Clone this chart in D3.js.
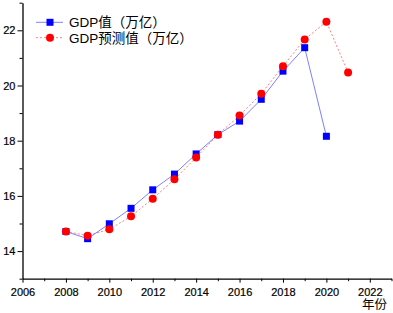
<!DOCTYPE html>
<html><head><meta charset="utf-8">
<script src="https://cdn.jsdelivr.net/npm/d3@7"></script>
<style>body{margin:0;background:#fff}svg{display:block}text{font-family:Arial,"Liberation Sans","Noto Sans CJK SC",sans-serif}</style>
</head><body>
<svg id="c" width="393" height="313"></svg>
<script>
const years = [2008,2009,2010,2011,2012,2013,2014,2015,2016,2017,2018,2019,2020];
const gdp = [14.71,14.45,14.99,15.55,16.22,16.79,17.52,18.22,18.71,19.5,20.52,21.37,18.16];
const predYears = [2008,2009,2010,2011,2012,2013,2014,2015,2016,2017,2018,2019,2020,2021];
const gdpPred = [14.71,14.56,14.79,15.26,15.9,16.6,17.39,18.22,18.91,19.7,20.7,21.67,22.31,20.47];
const xTicks = [2006,2008,2010,2012,2014,2016,2018,2020,2022];
const yTicks = [14,16,18,20,22];
const legendLabels = ["GDP值（万亿）","GDP预测值（万亿）"];
const xTitle = "年份";

const svg = d3.select("#c");
const x = d3.scaleLinear().domain([2006,2023]).range([22.5,391.5]);
const y = d3.scaleLinear().domain([13,23]).range([278.7,2.7]);

const g = svg.append("g");
const xa = g.append("g").attr("transform",`translate(0,${y(13)})`)
  .call(d3.axisBottom(x).tickValues(xTicks).tickFormat(d3.format("d")).tickSize(4).tickSizeOuter(0));
xa.select(".domain").attr("stroke-width",1.3);
xa.selectAll(".tick text").attr("font-size",11).attr("dy","0.95em").attr("fill","#000").attr("stroke","#000").attr("stroke-width",0.2);
g.append("g").attr("transform",`translate(0,${y(13)})`)
  .call(d3.axisBottom(x).tickValues(d3.range(2007,2024,2)).tickFormat("").tickSize(2.5).tickSizeOuter(0))
  .select(".domain").remove();
const ya = g.append("g").attr("transform",`translate(${x(2006)},0)`)
  .call(d3.axisLeft(y).tickValues(yTicks).tickFormat(d3.format("d")).tickSize(5).tickSizeOuter(0));
ya.select(".domain").attr("stroke-width",1.3);
ya.selectAll(".tick text").attr("font-size",11).attr("fill","#000").attr("x",-7).attr("stroke","#000").attr("stroke-width",0.2);
g.append("g").attr("transform",`translate(${x(2006)},0)`)
  .call(d3.axisLeft(y).tickValues([13,15,17,19,21,23]).tickFormat("").tickSize(3).tickSizeOuter(0))
  .select(".domain").remove();

svg.append("text").attr("x",387).attr("y",309).attr("text-anchor","end").attr("font-size",12.5).text(xTitle);

const line = d3.line().x(d=>x(d[0])).y(d=>y(d[1]));
const pd = predYears.map((yr,i)=>[yr,gdpPred[i]]);
const bd = years.map((yr,i)=>[yr,gdp[i]]);

svg.append("path").datum(pd).attr("d",line).attr("fill","none").attr("stroke","#ff8080").attr("stroke-width",1).attr("stroke-dasharray","2,2");
svg.append("path").datum(bd).attr("d",line).attr("fill","none").attr("stroke","#8080ff").attr("stroke-width",1);
svg.selectAll(".sq").data(bd).join("rect").attr("x",d=>x(d[0])-3.5).attr("y",d=>y(d[1])-3.5).attr("width",7).attr("height",7).attr("fill","#0000ff");
svg.selectAll(".ci").data(pd).join("circle").attr("cx",d=>x(d[0])).attr("cy",d=>y(d[1])).attr("r",4).attr("fill","#ff0000");

const lg = svg.append("g");
[[22.3,"#8080ff",null,"sq"],[37.7,"#ff8080","2,2","ci"]].forEach((r,i)=>{
  lg.append("line").attr("x1",36).attr("x2",63).attr("y1",r[0]).attr("y2",r[0]).attr("stroke",r[1]).attr("stroke-dasharray",r[2]);
  if(r[3]==="sq") lg.append("rect").attr("x",46.5).attr("y",r[0]-3.5).attr("width",7).attr("height",7).attr("fill","#0000ff");
  else lg.append("circle").attr("cx",50).attr("cy",r[0]).attr("r",4).attr("fill","#ff0000");
  lg.append("text").attr("x",69).attr("y",r[0]).attr("dy","0.36em").attr("font-size",13.5).text(legendLabels[i]);
});
</script>
</body></html>
